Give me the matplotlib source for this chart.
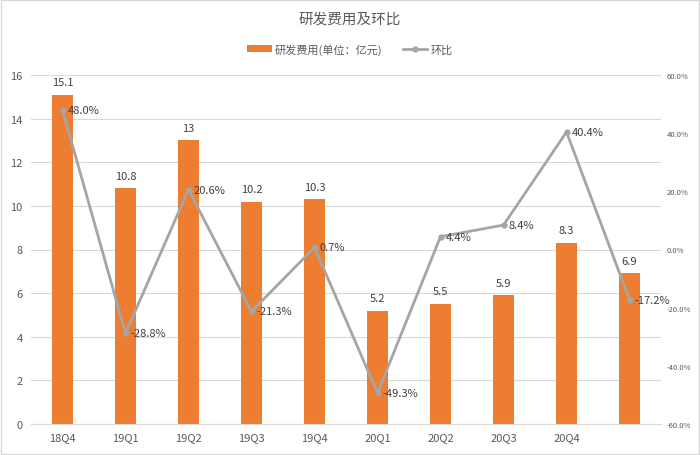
import numpy as np
import matplotlib
matplotlib.use("Agg")
import matplotlib.pyplot as plt
from matplotlib.ticker import FuncFormatter

plt.rcParams["font.family"] = ["Noto Sans CJK SC", "DejaVu Sans"]

# data
quarters = ["18Q4", "19Q1", "19Q2", "19Q3", "19Q4", "20Q1", "20Q2", "20Q3", "20Q4", "21Q1"]
rd_cost = [15.1, 10.8, 13, 10.2, 10.3, 5.2, 5.5, 5.9, 8.3, 6.9]
qoq = [48.0, -28.8, 20.6, -21.3, 0.7, -49.3, 4.4, 8.4, 40.4, -17.2]
bar_labels = ["15.1", "10.8", "13", "10.2", "10.3", "5.2", "5.5", "5.9", "8.3", "6.9"]
left_ticks = [0, 2, 4, 6, 8, 10, 12, 14, 16]
right_ticks = [-60, -40, -20, 0, 20, 40, 60]

orange = "#ED7D31"
grey = "#A5A5A5"
text_c = "#595959"

fig = plt.figure(figsize=(7, 4.56), dpi=100)
ax = fig.add_axes([31 / 700, 1 - 425 / 456, 630 / 700, 349 / 456])
x = np.arange(len(quarters))

bars = ax.bar(x, rd_cost, width=0.32, color=orange, zorder=2, label="研发费用(单位：亿元)")
for xi, v, lab in zip(x, rd_cost, bar_labels):
    ax.text(xi, v + 0.35, lab, ha="center", va="bottom", fontsize=8, color="#404040")

ax.set_xlim(-0.5, len(quarters) - 0.5)
ax.set_ylim(0, 16)
ax.set_yticks(left_ticks)
ax.set_xticks(x)
ax.set_xticklabels(quarters[:9] + [""])
ax.grid(axis="y", color="#D9D9D9", linewidth=0.8, zorder=0)
ax.tick_params(axis="both", length=0, labelsize=8, colors=text_c, pad=6)
for s in ax.spines.values():
    s.set_visible(False)
ax.spines["bottom"].set_visible(True)
ax.spines["bottom"].set_color("#D9D9D9")

ax2 = ax.twinx()
line, = ax2.plot(x, qoq, color=grey, linewidth=2, marker="o", markersize=3.5,
                 zorder=3, label="环比")
for xi, v in zip(x, qoq):
    ax2.text(xi + 0.08, v, f"{v:.1f}%", ha="left", va="center", fontsize=8, color="#404040")
ax2.set_ylim(-60, 60)
ax2.set_yticks(right_ticks)
ax2.yaxis.set_major_formatter(FuncFormatter(lambda v, p: f"{v:.1f}%"))
ax2.tick_params(axis="y", length=0, labelsize=5.5, colors=text_c, pad=4)
for s in ax2.spines.values():
    s.set_visible(False)

fig.text(0.5, 1 - 20 / 456, "研发费用及环比", ha="center", va="center", fontsize=10.5, color=text_c)
fig.legend(handles=[bars, line], loc="center", bbox_to_anchor=(0.5, 1 - 50 / 456),
           ncol=2, frameon=False, fontsize=8, labelcolor=text_c,
           handlelength=2.2, handleheight=0.6, columnspacing=1.8, handletextpad=0.3)

border = plt.Rectangle((0.002, 0.002), 0.996, 0.996, transform=fig.transFigure,
                       fill=False, edgecolor="#D9D9D9", linewidth=1)
fig.patches.append(border)

fig.savefig("out.png", dpi=100)
